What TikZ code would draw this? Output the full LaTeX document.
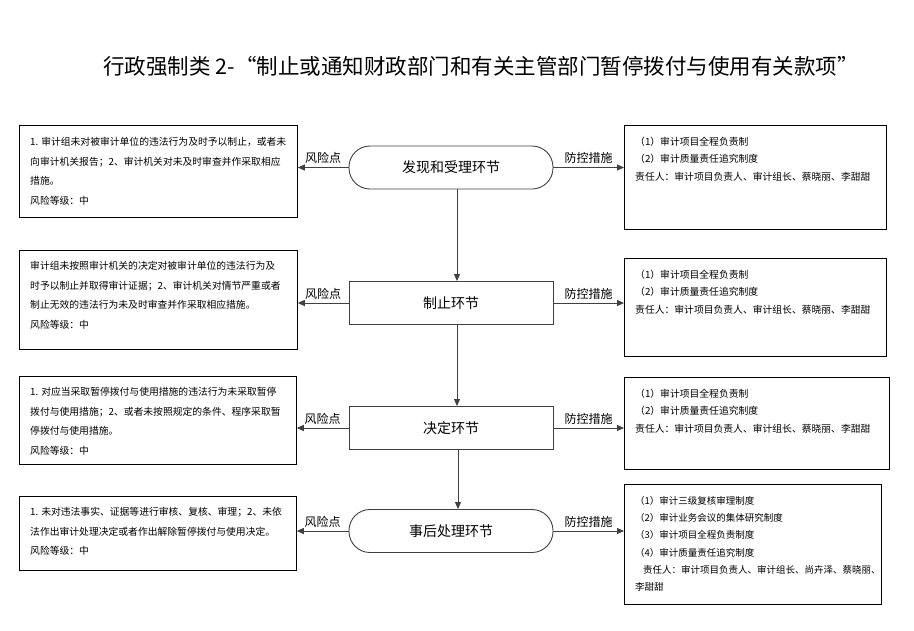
\documentclass[tikz,border=0pt]{standalone}
\usepackage{fontspec}
\setmainfont{Noto Sans CJK SC}
\usetikzlibrary{arrows.meta,positioning}

\begin{document}
\begin{tikzpicture}[x=1pt, y=-1pt,
    stage/.style={draw=black!75, line width=0.9pt, minimum width=204pt, minimum height=43pt, inner sep=0pt, font=\fontsize{14}{16}\selectfont},
    stageround/.style={stage, rounded corners=21pt},
    framebox/.style={draw, line width=0.8pt, anchor=north west, inner sep=0pt},
    risktext/.style={anchor=north west, inner xsep=11pt, inner ysep=12pt, align=left, font=\fontsize{9.8}{19.5}\selectfont},
    ctrltext/.style={anchor=north west, inner xsep=11pt, inner ysep=12pt, align=left, font=\fontsize{9.8}{17.3}\selectfont},
    flow/.style={draw=black!75, line width=1pt, -{Triangle[length=7pt,width=6pt]}},
    tag/.style={font=\fontsize{12}{14}\selectfont, above=0pt}]
    \useasboundingbox (0,0) rectangle (914,630);

    \node[font=\fontsize{21.5}{24}\selectfont] (title) at (481,66) {行政强制类 2-“制止或通知财政部门和有关主管部门暂停拨付与使用有关款项”};

    % Stages in the middle
    \node[stageround] (find) at (451,167.5) {发现和受理环节};
    \node[stage] (stop) at (451,303) {制止环节};
    \node[stage] (decide) at (451,428) {决定环节};
    \node[stageround] (after) at (451,531) {事后处理环节};

    % Risk boxes (left)
    \node[framebox, minimum width=278pt, minimum height=92pt] (risk1) at (19,125) {};
    \node[risktext] (risktext1) at (risk1.north west) {1. 审计组未对被审计单位的违法行为及时予以制止，或者未\\向审计机关报告；2、审计机关对未及时审查并作采取相应\\措施。\\风险等级：中};
    \node[framebox, minimum width=278pt, minimum height=99pt] (risk2) at (19,250) {};
    \node[risktext, inner ysep=11pt] (risktext2) at (risk2.north west) {审计组未按照审计机关的决定对被审计单位的违法行为及\\时予以制止并取得审计证据；2、审计机关对情节严重或者\\制止无效的违法行为未及时审查并作采取相应措施。\\风险等级：中};
    \node[framebox, minimum width=277pt, minimum height=88pt] (risk3) at (19,376) {};
    \node[risktext, inner ysep=11pt] (risktext3) at (risk3.north west) {1. 对应当采取暂停拨付与使用措施的违法行为未采取暂停\\拨付与使用措施；2、或者未按照规定的条件、程序采取暂\\停拨付与使用措施。\\风险等级：中};
    \node[framebox, minimum width=277pt, minimum height=74pt] (risk4) at (19,496) {};
    \node[risktext, inner ysep=11pt] (risktext4) at (risk4.north west) {1. 未对违法事实、证据等进行审核、复核、审理；2、未依\\法作出审计处理决定或者作出解除暂停拨付与使用决定。\\风险等级：中};

    % Control boxes (right)
    \node[framebox, minimum width=262pt, minimum height=104pt] (ctrl1) at (624,125) {};
    \node[ctrltext] (ctrltext1) at (ctrl1.north west) {（1）审计项目全程负责制\\（2）审计质量责任追究制度\\责任人：审计项目负责人、审计组长、蔡晓丽、李甜甜};
    \node[framebox, minimum width=262pt, minimum height=98pt] (ctrl2) at (624,258) {};
    \node[ctrltext] (ctrltext2) at (ctrl2.north west) {（1）审计项目全程负责制\\（2）审计质量责任追究制度\\责任人：审计项目负责人、审计组长、蔡晓丽、李甜甜};
    \node[framebox, minimum width=265pt, minimum height=92pt] (ctrl3) at (624,377) {};
    \node[ctrltext] (ctrltext3) at (ctrl3.north west) {（1）审计项目全程负责制\\（2）审计质量责任追究制度\\责任人：审计项目负责人、审计组长、蔡晓丽、李甜甜};
    \node[framebox, minimum width=257pt, minimum height=120pt] (ctrl4) at (624,484) {};
    \node[ctrltext, font=\fontsize{9.5}{17.3}\selectfont] (ctrltext4) at (ctrl4.north west) {（1）审计三级复核审理制度\\（2）审计业务会议的集体研究制度\\（3）审计项目全程负责制度\\（4）审计质量责任追究制度\\\hspace*{8pt}责任人：审计项目负责人、审计组长、尚卉泽、蔡晓丽、\\李甜甜};

    % Flow downwards
    \draw[flow] ([xshift=6pt]find.south) -- ([xshift=6pt]stop.north);
    \draw[flow] ([xshift=6pt]stop.south) -- ([xshift=6pt]decide.north);
    \draw[flow] ([xshift=7pt]decide.south) -- ([xshift=7pt]after.north);

    % Risk points and control measures
    \foreach \s/\r/\c in {find/risk1/ctrl1, stop/risk2/ctrl2, decide/risk3/ctrl3, after/risk4/ctrl4} {
      \draw[flow] (\s.west) -- (\s.west -| \r.east) node[midway, tag]{风险点};
      \draw[flow] (\s.east) -- (\s.east -| \c.west) node[midway, tag]{防控措施};
    }
\end{tikzpicture}
\end{document}
